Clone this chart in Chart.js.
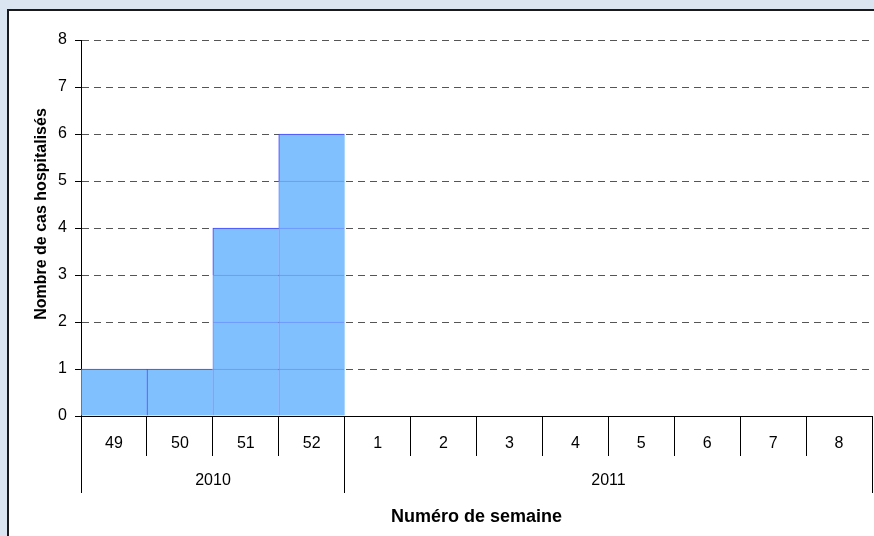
<!DOCTYPE html>
<html>
<head>
<meta charset="utf-8">
<script src="https://cdn.jsdelivr.net/npm/chart.js@4/dist/chart.umd.min.js"></script>
<style>
  html, body { margin: 0; padding: 0; background: #dbe5f1; }
  #wrap { width: 874px; height: 536px; }
</style>
</head>
<body>
<div id="wrap"><canvas id="chart" width="874" height="536"></canvas></div>
<script>
const weeks = ['49', '50', '51', '52', '1', '2', '3', '4', '5', '6', '7', '8'];
const weekYears = ['2010', '2010', '2010', '2010', '2011', '2011', '2011', '2011', '2011', '2011', '2011', '2011'];
const cases = [1, 1, 4, 6, 0, 0, 0, 0, 0, 0, 0, 0];
const yTicks = [0, 1, 2, 3, 4, 5, 6, 7, 8];

const FONT = 'Arial, "Liberation Sans", sans-serif';

// one stacked block per case, so each bar shows unit lines
const maxCases = Math.max(...cases);
const datasets = [];
for (let k = 0; k < maxCases; k++) {
  datasets.push({
    data: cases.map(v => v > k ? 1 : null),
    backgroundColor: '#80c0ff',
    borderColor: ctx => (cases[ctx.dataIndex] === k + 1 ? '#4040ff' : '#6a90ff'),
    borderWidth: { top: 1, left: 1, right: 0, bottom: 0 },
    borderSkipped: false,
    stack: 'cas',
    categoryPercentage: 1,
    barPercentage: 1
  });
}

// same pixel snapping as Chart.js uses for 1px lines
const snap = p => Math.round(p - 0.5) + 0.5;

const framePlugin = {
  id: 'frame',
  beforeDraw(chart) {
    const c = chart.ctx;
    c.save();
    c.fillStyle = '#dbe5f1';
    c.fillRect(0, 0, chart.width, chart.height);
    c.fillStyle = '#ffffff';
    c.fillRect(8, 10, chart.width, chart.height);
    c.strokeStyle = '#1a1a1a';
    c.lineWidth = 2;
    c.beginPath();
    c.moveTo(8, chart.height);
    c.lineTo(8, 10);
    c.lineTo(chart.width, 10);
    c.stroke();
    c.restore();
  },
  afterDraw(chart) {
    const c = chart.ctx;
    const x = chart.scales.x;
    const area = chart.chartArea;
    const half = (x.getPixelForValue(1) - x.getPixelForValue(0)) / 2;
    c.save();
    // year groups under the week numbers
    const groups = [];
    weekYears.forEach((y, i) => {
      const g = groups[groups.length - 1];
      if (g && g.year === y) g.end = i; else groups.push({ year: y, start: i, end: i });
    });
    c.strokeStyle = '#000';
    c.lineWidth = 1;
    c.fillStyle = '#000';
    c.font = '16px ' + FONT;
    c.textAlign = 'center';
    c.textBaseline = 'middle';
    groups.forEach((g, n) => {
      const x0 = snap(x.getPixelForValue(g.start) - half);
      const x1 = snap(x.getPixelForValue(g.end) + half);
      c.beginPath();
      c.moveTo(x0, area.bottom + 40);
      c.lineTo(x0, 493);
      if (n === groups.length - 1) {
        c.moveTo(x1, area.bottom + 40);
        c.lineTo(x1, 493);
      }
      c.stroke();
      c.fillText(g.year, (x0 + x1) / 2, 481);
    });
    // axis titles
    c.font = 'bold 18px ' + FONT;
    c.fillText('Numéro de semaine', (area.left + area.right) / 2, 517);
    c.font = 'bold 16px ' + FONT;
    c.translate(42, 214);
    c.rotate(-Math.PI / 2);
    c.fillText('Nombre de cas hospitalisés', 0, 0);
    c.restore();
  }
};

new Chart(document.getElementById('chart'), {
  type: 'bar',
  data: { labels: weeks, datasets: datasets },
  options: {
    responsive: false,
    animation: false,
    layout: { padding: { left: 21, top: 40, right: 2, bottom: 0 } },
    plugins: { legend: { display: false }, tooltip: { enabled: false } },
    scales: {
      x: {
        stacked: true,
        afterFit: s => { s.height = 120; },
        grid: {
          offset: true,
          drawOnChartArea: false,
          tickLength: 40,
          color: '#000',
          tickColor: '#000'
        },
        border: { display: true, color: '#000', width: 1 },
        ticks: { color: '#000', font: { family: FONT, size: 16 }, padding: -22, maxRotation: 0, autoSkip: false }
      },
      y: {
        stacked: true,
        min: yTicks[0],
        max: yTicks[yTicks.length - 1],
        afterFit: s => { s.width = 60; },
        afterBuildTicks: s => { s.ticks = yTicks.map(v => ({ value: v })); },
        grid: {
          color: ctx => (ctx.tick && ctx.tick.value === 0 ? 'rgba(0,0,0,0)' : '#555'),
          tickColor: '#000',
          tickLength: 6,
          tickBorderDash: []
        },
        border: { display: true, color: '#000', width: 1, dash: [7, 5] },
        ticks: { color: '#000', font: { family: FONT, size: 16 }, padding: 8 }
      }
    }
  },
  plugins: [framePlugin]
});
</script>
</body>
</html>
